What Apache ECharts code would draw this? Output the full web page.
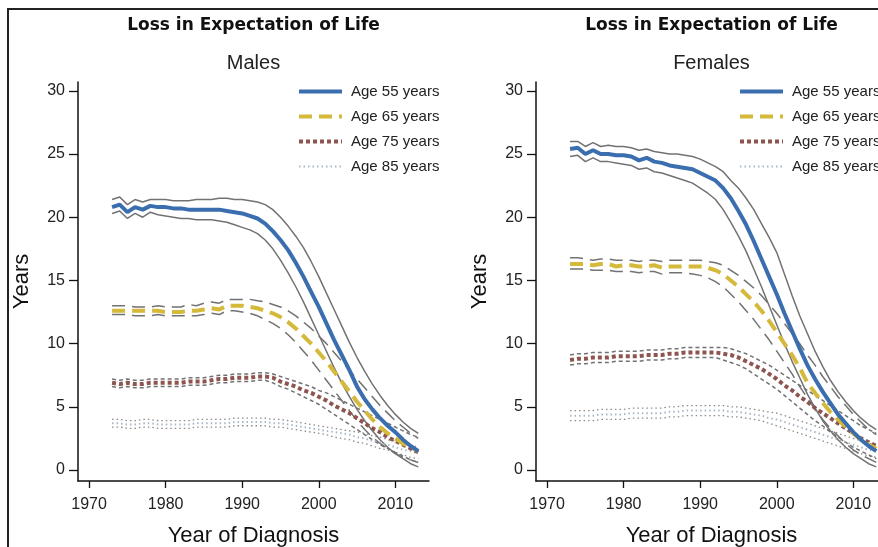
<!DOCTYPE html>
<html>
<head>
<meta charset="utf-8">
<script src="https://cdn.jsdelivr.net/npm/echarts@6/dist/echarts.min.js"></script>
<style>
html, body { margin: 0; padding: 0; background: #fff; }
#chart { width: 878px; height: 547px; }
</style>
</head>
<body>
<div id="chart"></div>
<script>
const years = [1973, 1974, 1975, 1976, 1977, 1978, 1979, 1980, 1981, 1982, 1983, 1984, 1985, 1986,
    1987, 1988, 1989, 1990, 1991, 1992, 1993, 1994, 1995, 1996, 1997, 1998, 1999, 2000,
    2001, 2002, 2003, 2004, 2005, 2006, 2007, 2008, 2009, 2010, 2011, 2012, 2013];
const xTicks = [1970, 1980, 1990, 2000, 2010];
const yTicks = [0, 5, 10, 15, 20, 25, 30];
const ageLabels = ['Age 55 years', 'Age 65 years', 'Age 75 years', 'Age 85 years'];

// Males
const m55 = [20.8, 21.0, 20.4, 20.8, 20.6, 20.9, 20.8, 20.8, 20.7, 20.7, 20.6, 20.6, 20.6, 20.6,
    20.6, 20.5, 20.4, 20.3, 20.1, 19.9, 19.5, 18.9, 18.2, 17.4, 16.4, 15.3, 14.1, 12.9,
    11.6, 10.3, 9.1, 7.9, 6.6, 5.6, 4.8, 4.1, 3.5, 3.0, 2.4, 1.9, 1.5];
const m55hi = [21.4, 21.6, 21.0, 21.4, 21.2, 21.4, 21.4, 21.4, 21.3, 21.3, 21.3, 21.4, 21.4, 21.4,
    21.5, 21.5, 21.4, 21.4, 21.3, 21.2, 21.0, 20.6, 20.0, 19.3, 18.5, 17.6, 16.5, 15.3,
    14.0, 12.7, 11.4, 10.1, 8.9, 7.8, 6.8, 5.9, 5.1, 4.4, 3.8, 3.3, 2.9];
const m55lo = [20.3, 20.5, 19.9, 20.3, 20.0, 20.4, 20.2, 20.1, 20.0, 19.9, 19.9, 19.8, 19.8, 19.8,
    19.7, 19.6, 19.4, 19.2, 19.0, 18.7, 18.2, 17.5, 16.6, 15.6, 14.5, 13.3, 12.0, 10.7,
    9.4, 8.1, 6.9, 5.8, 4.8, 3.9, 3.1, 2.4, 1.8, 1.3, 0.9, 0.5, 0.25];
const m65 = [12.6, 12.6, 12.6, 12.6, 12.6, 12.6, 12.6, 12.5, 12.5, 12.5, 12.6, 12.6, 12.7, 12.8,
    12.7, 13.0, 13.0, 13.0, 12.9, 12.8, 12.6, 12.4, 12.1, 11.7, 11.2, 10.6, 10.0, 9.3,
    8.6, 7.8, 7.0, 6.2, 5.4, 4.7, 4.0, 3.4, 2.9, 2.5, 2.1, 1.8, 1.5];
const m65hi = [13.0, 13.0, 13.0, 12.9, 12.9, 12.9, 13.0, 12.9, 12.9, 12.9, 13.1, 13.0, 13.2, 13.3,
    13.2, 13.5, 13.5, 13.5, 13.5, 13.4, 13.3, 13.1, 12.9, 12.6, 12.2, 11.7, 11.2, 10.6,
    10.0, 9.3, 8.6, 7.9, 7.2, 6.5, 5.8, 5.1, 4.5, 3.9, 3.4, 2.9, 2.5];
const m65lo = [12.3, 12.3, 12.3, 12.2, 12.2, 12.2, 12.3, 12.2, 12.2, 12.2, 12.2, 12.2, 12.3, 12.4,
    12.3, 12.6, 12.6, 12.5, 12.4, 12.2, 11.9, 11.6, 11.2, 10.7, 10.1, 9.4, 8.7, 7.9,
    7.1, 6.3, 5.5, 4.7, 3.9, 3.2, 2.6, 2.1, 1.7, 1.3, 1.0, 0.8, 0.6];
const m75 = [6.9, 6.8, 6.9, 6.8, 6.8, 6.9, 6.9, 6.9, 6.9, 6.9, 7.0, 7.0, 7.0, 7.1,
    7.2, 7.2, 7.3, 7.3, 7.3, 7.4, 7.4, 7.3, 7.0, 6.8, 6.6, 6.3, 6.1, 5.8,
    5.5, 5.1, 4.8, 4.5, 4.1, 3.7, 3.3, 3.0, 2.6, 2.3, 2.0, 1.7, 1.4];
const m75hi = [7.2, 7.1, 7.2, 7.1, 7.1, 7.2, 7.2, 7.2, 7.2, 7.2, 7.3, 7.3, 7.3, 7.4,
    7.5, 7.5, 7.6, 7.6, 7.6, 7.7, 7.7, 7.6, 7.4, 7.2, 7.0, 6.8, 6.6, 6.3,
    6.1, 5.8, 5.5, 5.2, 4.9, 4.6, 4.3, 4.0, 3.7, 3.4, 3.1, 2.8, 2.6];
const m75lo = [6.6, 6.5, 6.6, 6.5, 6.5, 6.6, 6.6, 6.6, 6.6, 6.6, 6.7, 6.7, 6.7, 6.8,
    6.9, 6.9, 7.0, 7.0, 7.0, 7.1, 7.1, 6.9, 6.6, 6.4, 6.1, 5.8, 5.5, 5.2,
    4.8, 4.4, 4.0, 3.6, 3.2, 2.8, 2.4, 2.0, 1.7, 1.4, 1.1, 0.8, 0.6];
const m85 = [3.7, 3.7, 3.6, 3.6, 3.7, 3.7, 3.6, 3.6, 3.6, 3.6, 3.6, 3.7, 3.7, 3.7,
    3.7, 3.7, 3.8, 3.8, 3.8, 3.8, 3.8, 3.7, 3.7, 3.6, 3.5, 3.4, 3.3, 3.2,
    3.1, 3.0, 2.9, 2.8, 2.6, 2.5, 2.3, 2.2, 2.0, 1.8, 1.6, 1.5, 1.3];
const m85hi = [4.0, 4.0, 3.9, 3.9, 4.0, 4.0, 3.9, 3.9, 3.9, 3.9, 3.9, 4.0, 4.0, 4.0,
    4.0, 4.0, 4.1, 4.1, 4.1, 4.1, 4.1, 4.0, 4.0, 3.9, 3.8, 3.7, 3.6, 3.5,
    3.4, 3.3, 3.2, 3.1, 3.0, 2.9, 2.7, 2.6, 2.4, 2.3, 2.1, 2.0, 1.8];
const m85lo = [3.4, 3.4, 3.3, 3.3, 3.4, 3.4, 3.3, 3.3, 3.3, 3.3, 3.3, 3.4, 3.4, 3.4,
    3.4, 3.4, 3.5, 3.5, 3.5, 3.5, 3.5, 3.4, 3.4, 3.3, 3.2, 3.1, 3.0, 2.9,
    2.8, 2.6, 2.5, 2.4, 2.2, 2.1, 1.9, 1.7, 1.6, 1.4, 1.2, 1.0, 0.9];

// Females
const f55 = [25.4, 25.5, 25.0, 25.3, 25.0, 25.0, 24.9, 24.9, 24.8, 24.5, 24.7, 24.4, 24.3, 24.1,
    24.0, 23.9, 23.8, 23.5, 23.2, 22.9, 22.3, 21.5, 20.5, 19.4, 18.1, 16.7, 15.3, 13.9,
    12.4, 11.0, 9.6, 8.3, 7.2, 6.2, 5.3, 4.4, 3.7, 3.0, 2.4, 1.9, 1.5];
const f55hi = [26.0, 26.0, 25.6, 25.9, 25.6, 25.7, 25.6, 25.6, 25.5, 25.3, 25.4, 25.2, 25.1, 25.0,
    25.0, 24.9, 24.8, 24.6, 24.3, 24.0, 23.6, 22.9, 22.3, 21.5, 20.6, 19.5, 18.4, 17.2,
    15.5, 13.8, 12.2, 10.8, 9.4, 8.2, 7.1, 6.2, 5.4, 4.7, 4.1, 3.6, 3.2];
const f55lo = [24.8, 24.9, 24.4, 24.7, 24.4, 24.4, 24.3, 24.2, 24.1, 23.8, 23.9, 23.6, 23.5, 23.3,
    23.1, 22.9, 22.7, 22.3, 21.9, 21.4, 20.6, 19.6, 18.5, 17.3, 15.9, 14.5, 13.0, 11.5,
    10.0, 8.6, 7.3, 6.0, 4.9, 3.9, 3.1, 2.4, 1.8, 1.3, 0.9, 0.5, 0.25];
const f65 = [16.3, 16.3, 16.3, 16.2, 16.3, 16.3, 16.1, 16.2, 16.2, 16.1, 16.1, 16.2, 16.0, 16.1,
    16.1, 16.1, 16.1, 16.1, 16.0, 15.8, 15.5, 15.0, 14.5, 13.9, 13.3, 12.6, 11.8, 10.9,
    10.0, 9.1, 8.1, 6.9, 6.1, 5.3, 4.6, 4.0, 3.4, 2.9, 2.4, 2.0, 1.7];
const f65hi = [16.8, 16.8, 16.7, 16.6, 16.7, 16.7, 16.6, 16.6, 16.6, 16.5, 16.6, 16.6, 16.5, 16.6,
    16.6, 16.6, 16.6, 16.6, 16.5, 16.4, 16.2, 15.8, 15.4, 14.9, 14.4, 13.8, 13.1, 12.4,
    11.6, 10.8, 10.0, 9.1, 8.3, 7.4, 6.6, 5.8, 5.1, 4.4, 3.8, 3.2, 2.8];
const f65lo = [15.9, 15.9, 15.9, 15.8, 15.8, 15.8, 15.7, 15.7, 15.7, 15.6, 15.7, 15.7, 15.5, 15.6,
    15.6, 15.6, 15.5, 15.4, 15.2, 14.9, 14.5, 13.9, 13.3, 12.6, 11.9, 11.1, 10.3, 9.4,
    8.5, 7.6, 6.6, 5.7, 4.8, 4.0, 3.3, 2.7, 2.1, 1.6, 1.2, 0.9, 0.6];
const f75 = [8.7, 8.8, 8.8, 8.9, 8.9, 8.9, 9.0, 9.0, 9.0, 9.0, 9.1, 9.1, 9.1, 9.2,
    9.2, 9.3, 9.3, 9.3, 9.3, 9.3, 9.2, 9.1, 8.9, 8.6, 8.3, 8.0, 7.6, 7.2,
    6.7, 6.3, 5.8, 5.4, 4.9, 4.5, 4.1, 3.7, 3.3, 2.9, 2.5, 2.2, 1.9];
const f75hi = [9.1, 9.2, 9.2, 9.3, 9.3, 9.3, 9.4, 9.4, 9.4, 9.4, 9.5, 9.5, 9.5, 9.6,
    9.6, 9.7, 9.7, 9.7, 9.7, 9.7, 9.7, 9.6, 9.4, 9.2, 8.9, 8.6, 8.3, 7.9,
    7.5, 7.1, 6.7, 6.3, 5.9, 5.5, 5.1, 4.7, 4.3, 3.9, 3.5, 3.2, 2.9];
const f75lo = [8.3, 8.4, 8.4, 8.5, 8.5, 8.5, 8.6, 8.6, 8.6, 8.6, 8.7, 8.7, 8.7, 8.8,
    8.8, 8.9, 8.9, 8.9, 8.9, 8.9, 8.7, 8.5, 8.3, 8.0, 7.6, 7.2, 6.8, 6.4,
    5.9, 5.4, 4.9, 4.4, 3.9, 3.5, 3.0, 2.6, 2.2, 1.8, 1.5, 1.2, 0.9];
const f85 = [4.3, 4.3, 4.3, 4.3, 4.4, 4.4, 4.4, 4.4, 4.5, 4.5, 4.5, 4.5, 4.5, 4.6,
    4.6, 4.7, 4.7, 4.7, 4.7, 4.7, 4.7, 4.6, 4.6, 4.5, 4.4, 4.3, 4.1, 4.0,
    3.8, 3.6, 3.4, 3.2, 3.0, 2.8, 2.6, 2.4, 2.2, 2.0, 1.8, 1.6, 1.5];
const f85hi = [4.7, 4.7, 4.7, 4.7, 4.8, 4.8, 4.8, 4.8, 4.9, 4.9, 4.9, 4.9, 4.9, 5.0,
    5.0, 5.1, 5.1, 5.1, 5.1, 5.1, 5.1, 5.0, 5.0, 4.9, 4.8, 4.7, 4.6, 4.5,
    4.3, 4.1, 3.9, 3.7, 3.5, 3.3, 3.1, 2.9, 2.7, 2.5, 2.3, 2.1, 2.0];
const f85lo = [3.9, 3.9, 3.9, 3.9, 4.0, 4.0, 4.0, 4.0, 4.1, 4.1, 4.1, 4.1, 4.1, 4.2,
    4.2, 4.3, 4.3, 4.3, 4.3, 4.3, 4.3, 4.2, 4.2, 4.1, 4.0, 3.9, 3.7, 3.5,
    3.3, 3.1, 2.9, 2.7, 2.5, 2.3, 2.1, 1.9, 1.7, 1.5, 1.3, 1.1, 1.0];

const ciGrey = '#727272';
// line look per age group: mean colour/width, dash pattern
const styles = [
    { color: '#3a6eae', width: 4, type: 'solid', ciWidth: 1.5, ciColor: ciGrey },
    { color: '#d5b93a', width: 4, type: [13, 7], ciWidth: 1.5, ciColor: ciGrey },
    { color: '#8d5450', width: 4, type: [4, 3], ciWidth: 1.5, ciColor: ciGrey },
    { color: '#a9b7c6', width: 2, type: [1.5, 3], ciWidth: 1.3, ciColor: '#8a8a8a' },
];

const pairs = arr => years.map((y, i) => [y, arr[i]]);

function band(idx, gridIdx, mean, hi, lo, tag) {
    const st = styles[idx];
    const base = { type: 'line', xAxisIndex: gridIdx, yAxisIndex: gridIdx, symbol: 'none', silent: true };
    const ci = { color: st.ciColor, width: st.ciWidth, type: st.type };
    return [
        Object.assign({}, base, { name: tag + ' hi ' + idx, data: pairs(hi), lineStyle: ci, z: 2 }),
        Object.assign({}, base, { name: tag + ' lo ' + idx, data: pairs(lo), lineStyle: ci, z: 2 }),
        Object.assign({}, base, {
            name: ageLabels[idx], data: pairs(mean), z: 3,
            itemStyle: { color: st.color },
            lineStyle: { color: st.color, width: st.width, type: st.type },
        }),
    ];
}

const males = [[m55, m55hi, m55lo], [m65, m65hi, m65lo], [m75, m75hi, m75lo], [m85, m85hi, m85lo]];
const females = [[f55, f55hi, f55lo], [f65, f65hi, f65lo], [f75, f75hi, f75lo], [f85, f85hi, f85lo]];

let series = [];
// draw 85 first so 55 sits on top
for (let i = 3; i >= 0; i--) {
    series = series.concat(band(i, 0, males[i][0], males[i][1], males[i][2], 'M'));
    series = series.concat(band(i, 1, females[i][0], females[i][1], females[i][2], 'F'));
}

const panels = [
    { left: 78, sub: 'Males', legendLeft: 297 },
    { left: 536, sub: 'Females', legendLeft: 738 },
];

const font = 'Liberation Sans, Arial, sans-serif';

const legendItems = ageLabels.map((name, i) => ({
    name: name,
    itemStyle: { opacity: 0 },
    lineStyle: { color: styles[i].color, width: styles[i].width, type: styles[i].type },
}));

const option = {
    animation: false,
    backgroundColor: '#fff',
    grid: panels.map(p => ({
        left: p.left, top: 82, width: 351, height: 399,
        outerBoundsMode: 'none', containLabel: false,
    })),
    xAxis: panels.map((p, i) => ({
        type: 'value',
        gridIndex: i,
        min: 1968.55,
        max: 2014.4,
        name: 'Year of Diagnosis',
        nameLocation: 'middle',
        nameGap: 44,
        nameTextStyle: { fontFamily: font, fontSize: 22, color: '#111' },
        splitLine: { show: false },
        axisLine: { onZero: false, lineStyle: { color: '#111', width: 1.5 } },
        axisTick: { customValues: xTicks, length: 7, lineStyle: { color: '#111', width: 1.3 } },
        axisLabel: {
            customValues: xTicks, margin: 16, fontFamily: font, fontSize: 16, color: '#222',
            formatter: v => String(v),
        },
    })),
    yAxis: panels.map((p, i) => ({
        type: 'value',
        gridIndex: i,
        min: -0.87,
        max: 30.7,
        name: 'Years',
        nameLocation: 'middle',
        nameGap: 45,
        nameTextStyle: { fontFamily: font, fontSize: 22, color: '#111' },
        splitLine: { show: false },
        axisLine: { onZero: false, lineStyle: { color: '#111', width: 1.5 } },
        axisTick: { customValues: yTicks, length: 9, lineStyle: { color: '#111', width: 1.3 } },
        axisLabel: {
            customValues: yTicks, margin: 13, fontFamily: font, fontSize: 16, color: '#222',
            formatter: v => String(v),
        },
    })),
    legend: panels.map(p => ({
        data: legendItems,
        orient: 'vertical',
        left: p.legendLeft,
        top: 84,
        padding: 0,
        itemGap: 10,
        itemWidth: 43,
        itemHeight: 14,
        selectedMode: false,
        textStyle: { fontFamily: font, fontSize: 15, color: '#222', padding: [0, 0, 0, 4] },
    })),
    graphic: [
        { type: 'rect', shape: { x: 8, y: 9, width: 1000, height: 1000 },
          style: { fill: 'none', stroke: '#222', lineWidth: 2 }, silent: true },
    ].concat(panels.flatMap(p => [
        { type: 'text', x: p.left + 175.5, y: 26,
          style: { text: 'Loss in Expectation of Life', font: 'bold 17px "DejaVu Sans", sans-serif',
                   fill: '#111', align: 'center', verticalAlign: 'middle' } },
        { type: 'text', x: p.left + 175.5, y: 63,
          style: { text: p.sub, font: '20px "Liberation Sans", Arial, sans-serif',
                   fill: '#222', align: 'center', verticalAlign: 'middle' } },
    ])),
    series: series,
};

const chart = echarts.init(document.getElementById('chart'), null, { renderer: 'canvas' });
chart.setOption(option);
window.onresize = function () {
    chart.resize();
};
</script>
</body>
</html>
